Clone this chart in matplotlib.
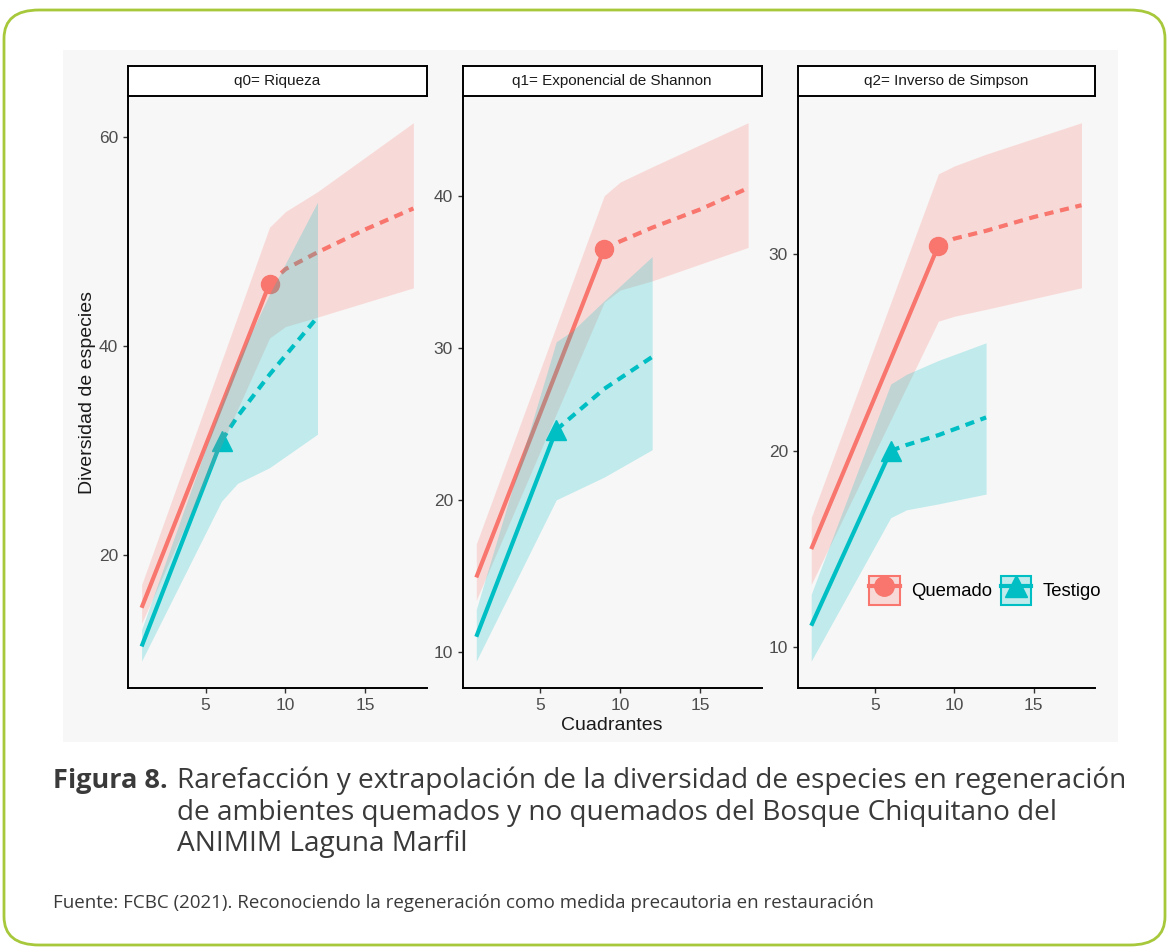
import numpy as np
import matplotlib
matplotlib.use('Agg')
import matplotlib.pyplot as plt
from matplotlib.patches import Rectangle, FancyBboxPatch, Patch
from matplotlib.lines import Line2D
from matplotlib.legend_handler import HandlerTuple

# Datos
quem_x_rare = [1, 9]
quem_x_ext = [9, 10, 12, 15, 18]
quem_x_band = [1, 9, 10, 12, 18]
test_x_rare = [1, 6]
test_x_ext = [6, 7, 9, 12]
test_x_band = [1, 6, 7, 9, 12]

titles = ["q0= Riqueza", "q1= Exponencial de Shannon", "q2= Inverso de Simpson"]
yticks = [[20, 40, 60], [10, 20, 30, 40], [10, 20, 30]]
xticks = [5, 10, 15]

# q0
q0_quem_rare = [15.0, 46.0]
q0_quem_ext = [46.0, 47.4, 49.0, 51.2, 53.2]
q0_quem_lo = [13.5, 40.8, 41.9, 42.8, 45.6]
q0_quem_hi = [17.2, 51.4, 52.9, 54.8, 61.4]
q0_test_rare = [11.3, 31.0]
q0_test_ext = [31.0, 33.3, 37.3, 42.8]
q0_test_lo = [9.9, 25.2, 26.9, 28.4, 31.6]
q0_test_hi = [12.9, 34.5, 38.5, 45.0, 53.8]

# q1
q1_quem_rare = [14.9, 36.5]
q1_quem_ext = [36.5, 37.0, 37.9, 39.1, 40.5]
q1_quem_lo = [13.4, 33.0, 33.8, 34.4, 36.6]
q1_quem_hi = [17.1, 40.0, 40.9, 41.9, 44.8]
q1_test_rare = [11.0, 24.6]
q1_test_ext = [24.6, 25.5, 27.3, 29.4]
q1_test_lo = [9.4, 20.0, 20.5, 21.5, 23.3]
q1_test_hi = [12.8, 30.4, 31.1, 33.1, 36.0]

# q2
q2_quem_rare = [15.0, 30.45]
q2_quem_ext = [30.45, 30.8, 31.2, 31.9, 32.5]
q2_quem_lo = [13.2, 26.6, 26.85, 27.2, 28.3]
q2_quem_hi = [16.6, 34.1, 34.5, 35.1, 36.7]
q2_test_rare = [11.1, 20.0]
q2_test_ext = [20.0, 20.3, 20.8, 21.7]
q2_test_lo = [9.3, 16.6, 17.0, 17.3, 17.8]
q2_test_hi = [12.7, 23.4, 23.9, 24.6, 25.5]

panels = [
    (q0_quem_rare, q0_quem_ext, q0_quem_lo, q0_quem_hi, q0_test_rare, q0_test_ext, q0_test_lo, q0_test_hi),
    (q1_quem_rare, q1_quem_ext, q1_quem_lo, q1_quem_hi, q1_test_rare, q1_test_ext, q1_test_lo, q1_test_hi),
    (q2_quem_rare, q2_quem_ext, q2_quem_lo, q2_quem_hi, q2_test_rare, q2_test_ext, q2_test_lo, q2_test_hi),
]

RED = '#F8766D'
CYAN = '#00BFC4'
W, H = 1168, 948

def fx(x):
    return x / W

def fy(y):
    return 1 - y / H

fig = plt.figure(figsize=(W / 100, H / 100), dpi=100)
fig.patch.set_facecolor('white')

# marco redondeado y fondo gris de la imagen
fig.patches.append(FancyBboxPatch((fx(4), fy(945)), fx(1161), 1 - fy(935), boxstyle='round,pad=0,rounding_size=0.03',
                                  transform=fig.transFigure, facecolor='white', edgecolor='#a6c83a', lw=2, zorder=-2))
fig.patches.append(Rectangle((fx(63), fy(742)), fx(1118 - 63), fy(50) - fy(742),
                             transform=fig.transFigure, facecolor='#f7f7f7', edgecolor='none', zorder=-1))

lefts = [128, 462.7, 797.7]
rights = [427, 761.7, 1095]
top_ax, bot_ax = 95.8, 688
strip_top = 65.5
sans = ['Liberation Sans', 'DejaVu Sans']

for i, (qr, qe, qlo, qhi, tr, te, tlo, thi) in enumerate(panels):
    ax = fig.add_axes([fx(lefts[i]), fy(bot_ax), fx(rights[i] - lefts[i]), fy(top_ax) - fy(bot_ax)])
    ax.set_facecolor('none')
    # puntos y lineas primero, bandas encima (como ggiNEXT)
    ax.plot(quem_x_rare, qr, color=RED, lw=3, solid_capstyle='butt', zorder=2)
    ax.plot(quem_x_ext, qe, color=RED, lw=3, ls=(0, (2.2, 1.6)), zorder=2)
    ax.plot([quem_x_rare[-1]], [qr[-1]], 'o', color=RED, ms=13, zorder=2)
    ax.plot(test_x_rare, tr, color=CYAN, lw=3, solid_capstyle='butt', zorder=2)
    ax.plot(test_x_ext, te, color=CYAN, lw=3, ls=(0, (2.2, 1.6)), zorder=2)
    ax.plot([test_x_rare[-1]], [tr[-1]], '^', color=CYAN, ms=15, zorder=2)
    ax.fill_between(quem_x_band, qlo, qhi, color=RED, alpha=0.22, lw=0, zorder=3)
    ax.fill_between(test_x_band, tlo, thi, color=CYAN, alpha=0.22, lw=0, zorder=3)

    ymin = min(min(qlo), min(tlo))
    ymax = max(max(qhi), max(thi))
    pad = (ymax - ymin) * 0.05
    ax.set_ylim(ymin - pad, ymax + pad)
    ax.set_xlim(1 - 17 * 0.05, 18 + 17 * 0.05)
    ax.set_xticks(xticks)
    ax.set_yticks(yticks[i])
    for s in ['top', 'right']:
        ax.spines[s].set_visible(False)
    for s in ['left', 'bottom']:
        ax.spines[s].set_linewidth(1.4)
        ax.spines[s].set_color('black')
    ax.tick_params(length=3.5, width=1, color='#333333', labelcolor='#4d4d4d', labelsize=12.5)
    for lab in ax.get_xticklabels() + ax.get_yticklabels():
        lab.set_family(sans)

    # cabecera de faceta
    sax = fig.add_axes([fx(lefts[i]), fy(top_ax), fx(rights[i] - lefts[i]), fy(strip_top) - fy(top_ax)])
    sax.set_xticks([])
    sax.set_yticks([])
    sax.set_facecolor('white')
    for s in sax.spines.values():
        s.set_linewidth(1.4)
        s.set_color('black')
    sax.text(0.5, 0.5, titles[i], ha='center', va='center', fontsize=11, color='#1a1a1a', family=sans)

    if i == 2:
        h1 = (Patch(facecolor=(248/255, 118/255, 109/255, 0.22), edgecolor=RED, lw=1.5),
              Line2D([], [], color=RED, lw=3, marker='o', ms=14))
        h2 = (Patch(facecolor=(0, 191/255, 196/255, 0.22), edgecolor=CYAN, lw=1.5),
              Line2D([], [], color=CYAN, lw=3, marker='^', ms=16))
        ax.legend([h1, h2], ['Quemado', 'Testigo'], ncol=2, loc='center', bbox_to_anchor=(0.63, 0.165),
                  frameon=False, handlelength=1.65, handleheight=2.0, columnspacing=0.5,
                  handletextpad=0.6, handler_map={tuple: HandlerTuple(ndivide=1)},
                  prop={'family': sans, 'size': 13.3})

fig.text(fx(88), fy(392), 'Diversidad de especies', rotation=90, ha='center', va='center',
         fontsize=14, color='#1a1a1a', family=sans)
fig.text(fx(612), fy(726), 'Cuadrantes', ha='center', va='center',
         fontsize=14, color='#1a1a1a', family=sans)

# pie de figura
cap_font = ['Open Sans', 'DejaVu Sans']
fig.text(fx(53), fy(788), 'Figura 8.', ha='left', va='baseline', fontsize=19.5, fontweight='bold',
         color='#3a3a3a', family=cap_font)
lines = ['Rarefacción y extrapolación de la diversidad de especies en regeneración',
         'de ambientes quemados y no quemados del Bosque Chiquitano del',
         'ANIMIM Laguna Marfil']
for txt, yb in zip(lines, [788, 820, 851]):
    fig.text(fx(177), fy(yb), txt, ha='left', va='baseline', fontsize=20.2, color='#3a3a3a', family=cap_font)
fig.text(fx(53), fy(908), 'Fuente: FCBC (2021). Reconociendo la regeneración como medida precautoria en restauración',
         ha='left', va='baseline', fontsize=13.5, color='#3a3a3a', family=cap_font)

plt.savefig('out.png', dpi=100)
